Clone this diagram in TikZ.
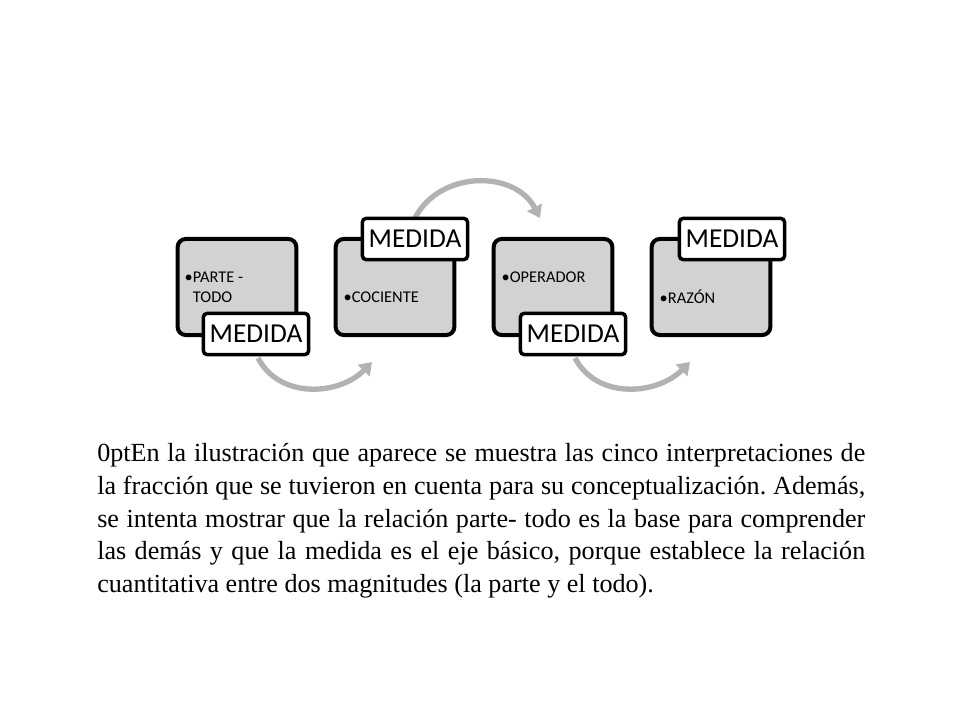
\documentclass[tikz,border=0pt]{standalone}
\usepackage{fontspec}
\setmainfont{Liberation Serif}
\newfontfamily\boxfont{Carlito}
\usetikzlibrary{arrows.meta}
\begin{document}
\begin{tikzpicture}[x=0.75pt,y=-0.75pt,
  gbox/.style={draw=black,line width=3pt,rounded corners=6pt,fill=gray!35,minimum width=89pt,minimum height=72pt,inner sep=0pt},
  mbox/.style={draw=black,line width=2.6pt,rounded corners=3pt,fill=white,minimum width=79pt,minimum height=31pt,inner sep=0pt,font=\boxfont\fontsize{20.5}{22}\selectfont},
  lab/.style={font=\boxfont\fontsize{12.3}{15}\selectfont,align=left,anchor=west},
  arc/.style={draw=gray!60,line width=4pt,-{Triangle[length=9pt,width=12pt]}}]
\useasboundingbox (0,0) rectangle (960,720);
% arcs
\coordinate (a1s) at (258,358); \coordinate (a1e) at (372,362);
\coordinate (a2s) at (415,218); \coordinate (a2e) at (540,218);
\coordinate (a3s) at (575,358); \coordinate (a3e) at (690,362);
\draw[arc] (a1s) .. controls (280,400) and (340,395) .. (a1e);
\draw[arc] (a2s) .. controls (440,170) and (515,170) .. (a2e);
\draw[arc] (a3s) .. controls (597,400) and (657,395) .. (a3e);
\node[gbox] (b1) at (237,287) {};
\node[gbox] (b2) at (395,287) {};
\node[gbox] (b3) at (553,287) {};
\node[gbox] (b4) at (711,287) {};
\node[lab] (t1) at (180,287) {•PARTE -\\\hspace{0.5em}TODO};
\node[lab] (t2) at (339,297) {•COCIENTE};
\node[lab] (t3) at (497,277) {•OPERADOR};
\node[lab] (t4) at (655,297) {•RAZÓN};
\node[mbox] (m1) at (256,334) {MEDIDA};
\node[mbox] (m2) at (415,239) {MEDIDA};
\node[mbox] (m3) at (573,334) {MEDIDA};
\node[mbox] (m4) at (732,239) {MEDIDA};
\node[anchor=north west,text width=576pt,align=justify,inner sep=0pt,
  font=\fontsize{19.6}{24.6}\selectfont\frenchspacing\hyphenpenalty=10000\exhyphenpenalty=10000] (para) at (97,443) {En la ilustración que aparece se muestra las cinco interpretaciones de la fracción que se tuvieron en cuenta para su conceptualización. Además, se intenta mostrar que la relación parte- todo es la base para comprender las demás y que la medida es el eje básico, porque establece la relación cuantitativa entre dos magnitudes (la parte y el todo).};
\end{tikzpicture}
\end{document}
